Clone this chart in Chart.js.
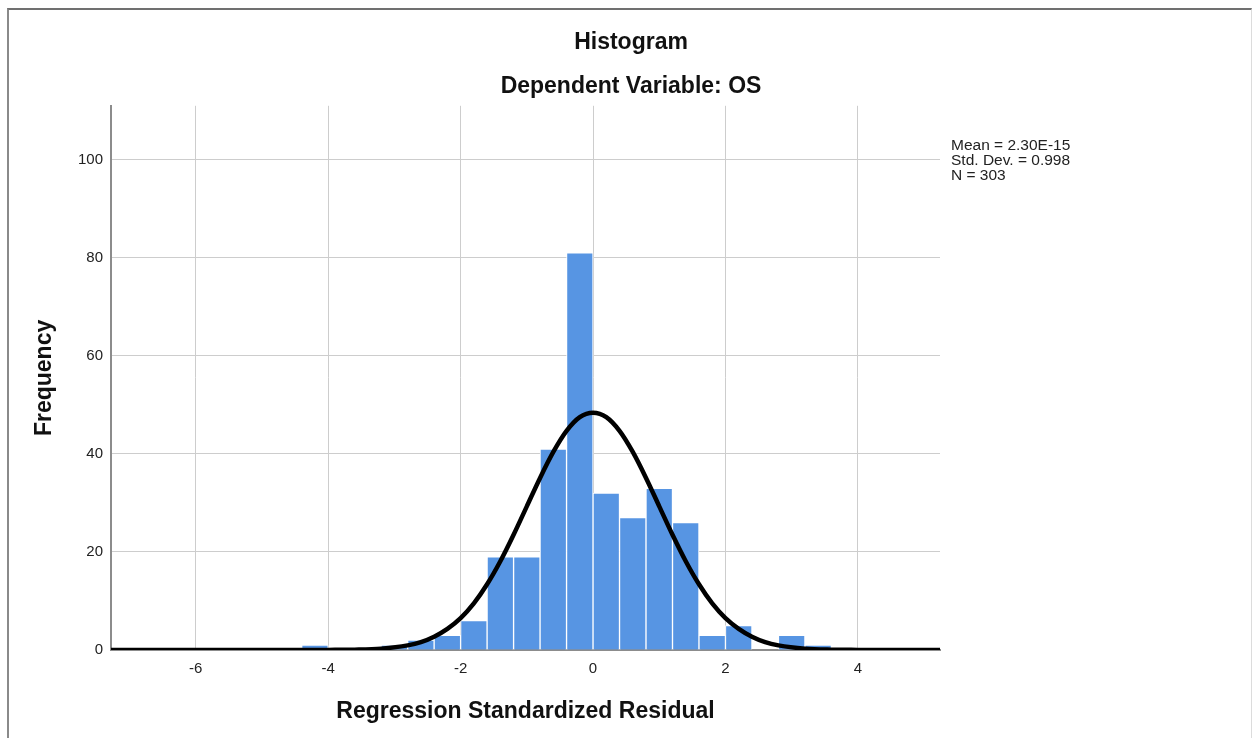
<!DOCTYPE html>
<html lang="en">
<head>
    <meta charset="UTF-8">
    <title>Histogram - Dependent Variable: OS</title>
    <script src="https://cdn.jsdelivr.net/npm/chart.js@4.4.1/dist/chart.umd.min.js"></script>
    <style>
        body { margin: 0; background: #fff; }
        #wrap { position: relative; width: 1252px; height: 738px; }
        #frame {
            position: absolute; left: 7px; top: 8px; width: 1242px; height: 740px;
            border-top: 2px solid #707070; border-left: 2px solid #8a8a8a; border-right: 1px solid #dcdcdc;
            pointer-events: none;
        }
    </style>
</head>
<body>
    <div id="wrap">
        <canvas id="histChart"></canvas>
        <div id="frame"></div>
    </div>

    <script>
        // histogram bins (lower edge, width 0.4) and counts
        const binWidth = 0.4;
        const binLower = [-4.4, -4.0, -3.6, -3.2, -2.8, -2.4, -2.0, -1.6, -1.2, -0.8,
                          -0.4, 0.0, 0.4, 0.8, 1.2, 1.6, 2.0, 2.4, 2.8, 3.2];
        const freq = [1, 0, 0, 1, 2, 3, 6, 19, 19, 41,
                      81, 32, 27, 33, 26, 3, 5, 0, 3, 1];

        // normal curve
        const curveX = [-7.28, -4.4, -4.0, -3.6, -3.2, -2.8, -2.6, -2.4, -2.2, -2.0, -1.8, -1.6, -1.4, -1.2, -1.0,
                        -0.8, -0.6, -0.4, -0.2, 0, 0.2, 0.4, 0.6, 0.8, 1.0, 1.2, 1.4, 1.6, 1.8, 2.0,
                        2.2, 2.4, 2.6, 2.8, 3.2, 3.6, 4.0, 4.4, 5.24];
        const curveY = [0, 0, 0.02, 0.07, 0.28, 0.95, 1.6, 2.7, 4.3, 6.5, 9.5, 13.4, 18.1, 23.5, 29.3,
                        35.1, 40.4, 44.7, 47.5, 48.4, 47.5, 44.7, 40.4, 35.1, 29.3, 23.5, 18.1, 13.4, 9.5, 6.5,
                        4.3, 2.7, 1.6, 0.95, 0.28, 0.07, 0.02, 0, 0];

        const xTicks = [-6, -4, -2, 0, 2, 4];
        const yTicks = [0, 20, 40, 60, 80, 100];
        const statLines = ['Mean = 2.30E-15', 'Std. Dev. = 0.998', 'N = 303'];

        const font = '"Liberation Sans", Arial, sans-serif';
        const gridColor = '#cdcdcd';

        const statsText = {
            id: 'statsText',
            afterDraw(chart) {
                const ctx = chart.ctx;
                const area = chart.chartArea;
                ctx.save();
                ctx.font = '15.5px ' + font;
                ctx.fillStyle = '#222';
                ctx.textAlign = 'left';
                ctx.textBaseline = 'middle';
                statLines.forEach((t, i) => ctx.fillText(t, area.right + 11, area.top + 40 + i * 15));
                ctx.restore();
            }
        };

        const ctx = document.getElementById('histChart').getContext('2d');
        new Chart(ctx, {
            type: 'bar',
            data: {
                datasets: [
                    {
                        type: 'line',
                        data: curveX.map((x, i) => ({ x: x, y: curveY[i] })),
                        borderColor: '#000',
                        borderWidth: 4.5,
                        pointRadius: 0,
                        cubicInterpolationMode: 'monotone',
                        fill: false,
                        xAxisID: 'x', yAxisID: 'y',
                        order: 1
                    },
                    {
                        type: 'bar',
                        data: binLower.map((b, i) => ({ x: b + binWidth / 2, y: freq[i] })),
                        backgroundColor: '#5795e3',
                        borderColor: '#ffffff',
                        borderWidth: 1,
                        borderSkipped: 'start',
                        barPercentage: 1,
                        categoryPercentage: 1,
                        xAxisID: 'x', yAxisID: 'y',
                        order: 2
                    }
                ]
            },
            options: {
                responsive: true,
                maintainAspectRatio: false,
                animation: false,
                layout: { padding: { left: 31, right: 21, top: 0, bottom: 0 } },
                plugins: {
                    legend: { display: false },
                    tooltip: { enabled: false },
                    title: {
                        display: true, text: 'Histogram', color: '#111',
                        font: { family: font, size: 23, weight: 'bold' },
                        padding: { top: 29, bottom: 0 }
                    },
                    subtitle: {
                        display: true, text: 'Dependent Variable: OS', color: '#111',
                        font: { family: font, size: 23, weight: 'bold' },
                        padding: { top: 16.6, bottom: 5 }
                    }
                },
                scales: {
                    x: {
                        type: 'linear', position: 'bottom',
                        min: -7.28, max: 5.24,
                        offset: false,
                        afterBuildTicks: s => { s.ticks = xTicks.map(v => ({ value: v })); },
                        afterFit: s => { s.height = 88; },
                        grid: { color: gridColor, drawTicks: false, offset: false },
                        border: { display: true, color: '#8c8c8c', width: 2 },
                        ticks: { color: '#222', padding: 10, font: { family: font, size: 15 } },
                        title: {
                            display: true, text: 'Regression Standardized Residual', color: '#111',
                            font: { family: font, size: 23, weight: 'bold' },
                            padding: { top: 21, bottom: 13 }
                        }
                    },
                    y: {
                        type: 'linear', position: 'left',
                        min: 0, max: 111,
                        afterBuildTicks: s => { s.ticks = yTicks.map(v => ({ value: v })); },
                        afterFit: s => { s.width = 80; },
                        grid: { color: gridColor, drawTicks: false },
                        border: { display: true, color: '#8c8c8c', width: 2 },
                        ticks: { color: '#222', padding: 8, font: { family: font, size: 15 } },
                        title: {
                            display: true, text: 'Frequency', color: '#111',
                            font: { family: font, size: 23, weight: 'bold' },
                            padding: { top: 0, bottom: 0 }
                        }
                    },
                    side: {
                        type: 'linear', position: 'right', axis: 'y',
                        afterFit: s => { s.width = 291; },
                        grid: { display: false },
                        border: { display: false },
                        ticks: { display: false }
                    }
                }
            },
            plugins: [statsText]
        });
    </script>
</body>
</html>
